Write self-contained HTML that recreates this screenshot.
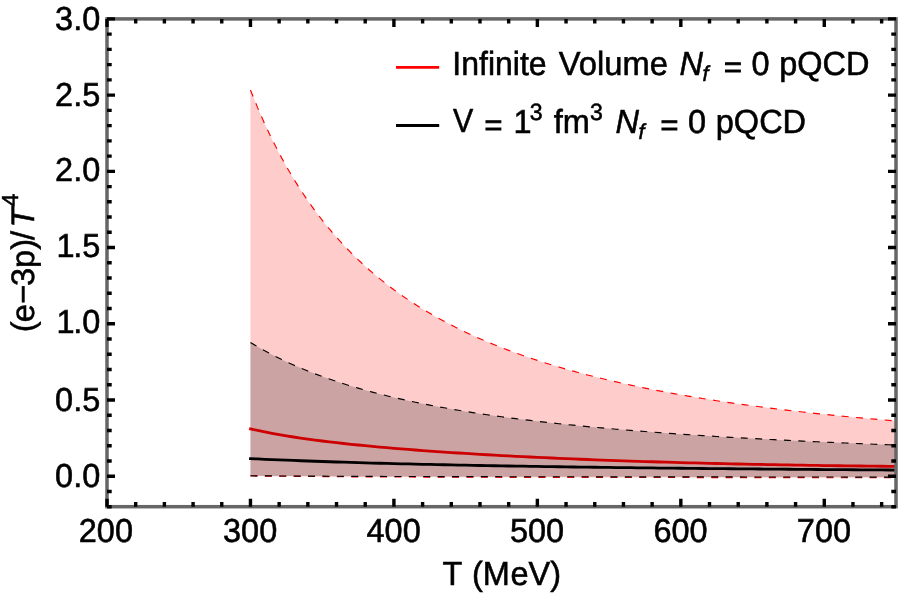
<!DOCTYPE html>
<html lang="en"><head><meta charset="utf-8"><title>Trace anomaly pQCD</title>
<style>
html,body{margin:0;padding:0;background:#fff;}
body{width:900px;height:598px;overflow:hidden;}
svg{display:block;}
text{font-family:"Liberation Sans",Arial,Helvetica,sans-serif;font-size:32.5px;fill:#000;stroke:#000;stroke-width:0.55px;text-rendering:geometricPrecision;}
.i{font-style:italic;}
.s{font-size:23.1px;}
</style></head><body>
<svg width="900" height="598" viewBox="0 0 900 598">
<rect width="900" height="598" fill="#fff"/>
<defs><clipPath id="pc"><rect x="107.0" y="18.9" width="789.0" height="487.8"/></clipPath></defs>
<g clip-path="url(#pc)">
<!-- red band -->
<path d="M250.45 89.93 L257.63 107.65 L264.80 124.02 L271.97 139.19 L279.15 153.28 L286.32 166.39 L293.49 178.61 L300.66 190.03 L307.84 200.72 L315.01 210.74 L322.18 220.15 L329.35 229.00 L336.53 237.33 L343.70 245.20 L350.87 252.63 L358.05 259.66 L365.22 266.31 L372.39 272.63 L379.56 278.62 L386.74 284.32 L393.91 289.74 L401.08 294.90 L408.25 299.82 L415.43 304.52 L422.60 309.01 L429.77 313.30 L436.95 317.40 L444.12 321.33 L451.29 325.10 L458.46 328.71 L465.64 332.18 L472.81 335.51 L479.98 338.71 L487.15 341.79 L494.33 344.75 L501.50 347.60 L508.67 350.35 L515.85 353.00 L523.02 355.55 L530.19 358.01 L537.36 360.39 L544.54 362.69 L551.71 364.91 L558.88 367.06 L566.05 369.13 L573.23 371.14 L580.40 373.08 L587.57 374.97 L594.75 376.79 L601.92 378.55 L609.09 380.27 L616.26 381.93 L623.44 383.54 L630.61 385.10 L637.78 386.62 L644.95 388.09 L652.13 389.52 L659.30 390.91 L666.47 392.26 L673.65 393.57 L680.82 394.84 L687.99 396.08 L695.16 397.29 L702.34 398.46 L709.51 399.60 L716.68 400.72 L723.85 401.80 L731.03 402.85 L738.20 403.88 L745.37 404.88 L752.55 405.85 L759.72 406.80 L766.89 407.72 L774.06 408.62 L781.24 409.50 L788.41 410.36 L795.58 411.19 L802.75 412.01 L809.93 412.80 L817.10 413.58 L824.27 414.33 L831.45 415.07 L838.62 415.79 L845.79 416.50 L852.96 417.18 L860.14 417.85 L867.31 418.51 L874.48 419.15 L881.65 419.77 L888.83 420.38 L896.00 420.98 L896.00 477.80 L888.83 477.79 L881.65 477.78 L874.48 477.78 L867.31 477.77 L860.14 477.76 L852.96 477.75 L845.79 477.74 L838.62 477.73 L831.45 477.72 L824.27 477.71 L817.10 477.70 L809.93 477.69 L802.75 477.68 L795.58 477.68 L788.41 477.67 L781.24 477.66 L774.06 477.65 L766.89 477.64 L759.72 477.63 L752.55 477.62 L745.37 477.61 L738.20 477.60 L731.03 477.59 L723.85 477.58 L716.68 477.57 L709.51 477.57 L702.34 477.56 L695.16 477.55 L687.99 477.54 L680.82 477.53 L673.65 477.52 L666.47 477.51 L659.30 477.50 L652.13 477.49 L644.95 477.48 L637.78 477.47 L630.61 477.47 L623.44 477.46 L616.26 477.45 L609.09 477.44 L601.92 477.43 L594.75 477.42 L587.57 477.41 L580.40 477.40 L573.23 477.39 L566.05 477.38 L558.88 477.37 L551.71 477.37 L544.54 477.36 L537.36 477.35 L530.19 477.34 L523.02 477.33 L515.85 477.32 L508.67 477.31 L501.50 477.30 L494.33 477.28 L487.15 477.26 L479.98 477.24 L472.81 477.22 L465.64 477.20 L458.46 477.18 L451.29 477.16 L444.12 477.14 L436.95 477.12 L429.77 477.10 L422.60 477.08 L415.43 477.06 L408.25 477.04 L401.08 477.02 L393.91 477.00 L386.74 476.98 L379.56 476.96 L372.39 476.94 L365.22 476.91 L358.05 476.88 L350.87 476.83 L343.70 476.77 L336.53 476.71 L329.35 476.65 L322.18 476.59 L315.01 476.53 L307.84 476.47 L300.66 476.41 L293.49 476.36 L286.32 476.30 L279.15 476.24 L271.97 476.18 L264.80 476.12 L257.63 476.06 L250.45 476.00 Z" fill="#ff0000" fill-opacity="0.2"/>
<path d="M250.45 89.93 L257.63 107.65 L264.80 124.02 L271.97 139.19 L279.15 153.28 L286.32 166.39 L293.49 178.61 L300.66 190.03 L307.84 200.72 L315.01 210.74 L322.18 220.15 L329.35 229.00 L336.53 237.33 L343.70 245.20 L350.87 252.63 L358.05 259.66 L365.22 266.31 L372.39 272.63 L379.56 278.62 L386.74 284.32 L393.91 289.74 L401.08 294.90 L408.25 299.82 L415.43 304.52 L422.60 309.01 L429.77 313.30 L436.95 317.40 L444.12 321.33 L451.29 325.10 L458.46 328.71 L465.64 332.18 L472.81 335.51 L479.98 338.71 L487.15 341.79 L494.33 344.75 L501.50 347.60 L508.67 350.35 L515.85 353.00 L523.02 355.55 L530.19 358.01 L537.36 360.39 L544.54 362.69 L551.71 364.91 L558.88 367.06 L566.05 369.13 L573.23 371.14 L580.40 373.08 L587.57 374.97 L594.75 376.79 L601.92 378.55 L609.09 380.27 L616.26 381.93 L623.44 383.54 L630.61 385.10 L637.78 386.62 L644.95 388.09 L652.13 389.52 L659.30 390.91 L666.47 392.26 L673.65 393.57 L680.82 394.84 L687.99 396.08 L695.16 397.29 L702.34 398.46 L709.51 399.60 L716.68 400.72 L723.85 401.80 L731.03 402.85 L738.20 403.88 L745.37 404.88 L752.55 405.85 L759.72 406.80 L766.89 407.72 L774.06 408.62 L781.24 409.50 L788.41 410.36 L795.58 411.19 L802.75 412.01 L809.93 412.80 L817.10 413.58 L824.27 414.33 L831.45 415.07 L838.62 415.79 L845.79 416.50 L852.96 417.18 L860.14 417.85 L867.31 418.51 L874.48 419.15 L881.65 419.77 L888.83 420.38 L896.00 420.98" fill="none" stroke="#ff0000" stroke-width="1.15" stroke-dasharray="7 7.4"/>
<path d="M250.45 476.00 L257.63 476.06 L264.80 476.12 L271.97 476.18 L279.15 476.24 L286.32 476.30 L293.49 476.36 L300.66 476.41 L307.84 476.47 L315.01 476.53 L322.18 476.59 L329.35 476.65 L336.53 476.71 L343.70 476.77 L350.87 476.83 L358.05 476.88 L365.22 476.91 L372.39 476.94 L379.56 476.96 L386.74 476.98 L393.91 477.00 L401.08 477.02 L408.25 477.04 L415.43 477.06 L422.60 477.08 L429.77 477.10 L436.95 477.12 L444.12 477.14 L451.29 477.16 L458.46 477.18 L465.64 477.20 L472.81 477.22 L479.98 477.24 L487.15 477.26 L494.33 477.28 L501.50 477.30 L508.67 477.31 L515.85 477.32 L523.02 477.33 L530.19 477.34 L537.36 477.35 L544.54 477.36 L551.71 477.37 L558.88 477.37 L566.05 477.38 L573.23 477.39 L580.40 477.40 L587.57 477.41 L594.75 477.42 L601.92 477.43 L609.09 477.44 L616.26 477.45 L623.44 477.46 L630.61 477.47 L637.78 477.47 L644.95 477.48 L652.13 477.49 L659.30 477.50 L666.47 477.51 L673.65 477.52 L680.82 477.53 L687.99 477.54 L695.16 477.55 L702.34 477.56 L709.51 477.57 L716.68 477.57 L723.85 477.58 L731.03 477.59 L738.20 477.60 L745.37 477.61 L752.55 477.62 L759.72 477.63 L766.89 477.64 L774.06 477.65 L781.24 477.66 L788.41 477.67 L795.58 477.68 L802.75 477.68 L809.93 477.69 L817.10 477.70 L824.27 477.71 L831.45 477.72 L838.62 477.73 L845.79 477.74 L852.96 477.75 L860.14 477.76 L867.31 477.77 L874.48 477.78 L881.65 477.78 L888.83 477.79 L896.00 477.80" fill="none" stroke="#ff0000" stroke-width="1.15" stroke-dasharray="7 7.4"/>
<path d="M250.45 428.82 L257.63 430.44 L264.80 431.93 L271.97 433.33 L279.15 434.63 L286.32 435.85 L293.49 437.00 L300.66 438.08 L307.84 439.10 L315.01 440.07 L322.18 440.99 L329.35 441.87 L336.53 442.71 L343.70 443.51 L350.87 444.27 L358.05 445.01 L365.22 445.72 L372.39 446.40 L379.56 447.05 L386.74 447.69 L393.91 448.30 L401.08 448.89 L408.25 449.46 L415.43 450.02 L422.60 450.55 L429.77 451.07 L436.95 451.58 L444.12 452.07 L451.29 452.55 L458.46 453.01 L465.64 453.46 L472.81 453.90 L479.98 454.33 L487.15 454.74 L494.33 455.15 L501.50 455.54 L508.67 455.92 L515.85 456.29 L523.02 456.66 L530.19 457.01 L537.36 457.35 L544.54 457.69 L551.71 458.01 L558.88 458.33 L566.05 458.64 L573.23 458.94 L580.40 459.23 L587.57 459.52 L594.75 459.80 L601.92 460.07 L609.09 460.33 L616.26 460.58 L623.44 460.83 L630.61 461.08 L637.78 461.31 L644.95 461.54 L652.13 461.76 L659.30 461.98 L666.47 462.19 L673.65 462.40 L680.82 462.59 L687.99 462.79 L695.16 462.97 L702.34 463.16 L709.51 463.33 L716.68 463.51 L723.85 463.67 L731.03 463.83 L738.20 463.99 L745.37 464.14 L752.55 464.29 L759.72 464.43 L766.89 464.57 L774.06 464.71 L781.24 464.84 L788.41 464.96 L795.58 465.08 L802.75 465.20 L809.93 465.31 L817.10 465.42 L824.27 465.53 L831.45 465.63 L838.62 465.73 L845.79 465.82 L852.96 465.91 L860.14 466.00 L867.31 466.08 L874.48 466.16 L881.65 466.24 L888.83 466.31 L896.00 466.39" fill="none" stroke="#ff0000" stroke-width="2.8" stroke-linecap="square"/>
<!-- black band -->
<path d="M250.45 342.42 L257.63 346.72 L264.80 350.79 L271.97 354.64 L279.15 358.28 L286.32 361.72 L293.49 364.99 L300.66 368.10 L307.84 371.05 L315.01 373.85 L322.18 376.52 L329.35 379.07 L336.53 381.50 L343.70 383.82 L350.87 386.03 L358.05 388.15 L365.22 390.18 L372.39 392.13 L379.56 393.99 L386.74 395.77 L393.91 397.49 L401.08 399.13 L408.25 400.72 L415.43 402.24 L422.60 403.70 L429.77 405.11 L436.95 406.47 L444.12 407.78 L451.29 409.04 L458.46 410.26 L465.64 411.44 L472.81 412.58 L479.98 413.68 L487.15 414.74 L494.33 415.77 L501.50 416.76 L508.67 417.73 L515.85 418.66 L523.02 419.57 L530.19 420.44 L537.36 421.29 L544.54 422.12 L551.71 422.92 L558.88 423.70 L566.05 424.46 L573.23 425.19 L580.40 425.91 L587.57 426.60 L594.75 427.28 L601.92 427.93 L609.09 428.57 L616.26 429.20 L623.44 429.81 L630.61 430.40 L637.78 430.97 L644.95 431.54 L652.13 432.09 L659.30 432.62 L666.47 433.14 L673.65 433.65 L680.82 434.15 L687.99 434.64 L695.16 435.11 L702.34 435.58 L709.51 436.03 L716.68 436.47 L723.85 436.91 L731.03 437.33 L738.20 437.75 L745.37 438.15 L752.55 438.55 L759.72 438.94 L766.89 439.32 L774.06 439.69 L781.24 440.06 L788.41 440.42 L795.58 440.77 L802.75 441.11 L809.93 441.45 L817.10 441.78 L824.27 442.10 L831.45 442.42 L838.62 442.73 L845.79 443.04 L852.96 443.34 L860.14 443.63 L867.31 443.92 L874.48 444.21 L881.65 444.48 L888.83 444.76 L896.00 445.03 L896.00 477.10 L888.83 477.09 L881.65 477.09 L874.48 477.08 L867.31 477.07 L860.14 477.07 L852.96 477.06 L845.79 477.05 L838.62 477.04 L831.45 477.04 L824.27 477.03 L817.10 477.02 L809.93 477.01 L802.75 477.01 L795.58 477.00 L788.41 476.99 L781.24 476.99 L774.06 476.98 L766.89 476.97 L759.72 476.96 L752.55 476.96 L745.37 476.95 L738.20 476.94 L731.03 476.93 L723.85 476.93 L716.68 476.92 L709.51 476.91 L702.34 476.91 L695.16 476.90 L687.99 476.89 L680.82 476.88 L673.65 476.88 L666.47 476.87 L659.30 476.86 L652.13 476.85 L644.95 476.85 L637.78 476.84 L630.61 476.83 L623.44 476.83 L616.26 476.82 L609.09 476.81 L601.92 476.80 L594.75 476.80 L587.57 476.79 L580.40 476.78 L573.23 476.77 L566.05 476.77 L558.88 476.76 L551.71 476.75 L544.54 476.75 L537.36 476.74 L530.19 476.73 L523.02 476.72 L515.85 476.72 L508.67 476.71 L501.50 476.70 L494.33 476.69 L487.15 476.67 L479.98 476.66 L472.81 476.64 L465.64 476.63 L458.46 476.61 L451.29 476.60 L444.12 476.58 L436.95 476.56 L429.77 476.55 L422.60 476.53 L415.43 476.52 L408.25 476.50 L401.08 476.49 L393.91 476.47 L386.74 476.46 L379.56 476.44 L372.39 476.43 L365.22 476.41 L358.05 476.39 L350.87 476.35 L343.70 476.31 L336.53 476.27 L329.35 476.23 L322.18 476.19 L315.01 476.15 L307.84 476.12 L300.66 476.08 L293.49 476.04 L286.32 476.00 L279.15 475.96 L271.97 475.92 L264.80 475.88 L257.63 475.84 L250.45 475.80 Z" fill="#000000" fill-opacity="0.2"/>
<path d="M250.45 342.42 L257.63 346.72 L264.80 350.79 L271.97 354.64 L279.15 358.28 L286.32 361.72 L293.49 364.99 L300.66 368.10 L307.84 371.05 L315.01 373.85 L322.18 376.52 L329.35 379.07 L336.53 381.50 L343.70 383.82 L350.87 386.03 L358.05 388.15 L365.22 390.18 L372.39 392.13 L379.56 393.99 L386.74 395.77 L393.91 397.49 L401.08 399.13 L408.25 400.72 L415.43 402.24 L422.60 403.70 L429.77 405.11 L436.95 406.47 L444.12 407.78 L451.29 409.04 L458.46 410.26 L465.64 411.44 L472.81 412.58 L479.98 413.68 L487.15 414.74 L494.33 415.77 L501.50 416.76 L508.67 417.73 L515.85 418.66 L523.02 419.57 L530.19 420.44 L537.36 421.29 L544.54 422.12 L551.71 422.92 L558.88 423.70 L566.05 424.46 L573.23 425.19 L580.40 425.91 L587.57 426.60 L594.75 427.28 L601.92 427.93 L609.09 428.57 L616.26 429.20 L623.44 429.81 L630.61 430.40 L637.78 430.97 L644.95 431.54 L652.13 432.09 L659.30 432.62 L666.47 433.14 L673.65 433.65 L680.82 434.15 L687.99 434.64 L695.16 435.11 L702.34 435.58 L709.51 436.03 L716.68 436.47 L723.85 436.91 L731.03 437.33 L738.20 437.75 L745.37 438.15 L752.55 438.55 L759.72 438.94 L766.89 439.32 L774.06 439.69 L781.24 440.06 L788.41 440.42 L795.58 440.77 L802.75 441.11 L809.93 441.45 L817.10 441.78 L824.27 442.10 L831.45 442.42 L838.62 442.73 L845.79 443.04 L852.96 443.34 L860.14 443.63 L867.31 443.92 L874.48 444.21 L881.65 444.48 L888.83 444.76 L896.00 445.03" fill="none" stroke="#000" stroke-width="1.15" stroke-dasharray="7 7.4"/>
<path d="M250.45 475.80 L257.63 475.84 L264.80 475.88 L271.97 475.92 L279.15 475.96 L286.32 476.00 L293.49 476.04 L300.66 476.08 L307.84 476.12 L315.01 476.15 L322.18 476.19 L329.35 476.23 L336.53 476.27 L343.70 476.31 L350.87 476.35 L358.05 476.39 L365.22 476.41 L372.39 476.43 L379.56 476.44 L386.74 476.46 L393.91 476.47 L401.08 476.49 L408.25 476.50 L415.43 476.52 L422.60 476.53 L429.77 476.55 L436.95 476.56 L444.12 476.58 L451.29 476.60 L458.46 476.61 L465.64 476.63 L472.81 476.64 L479.98 476.66 L487.15 476.67 L494.33 476.69 L501.50 476.70 L508.67 476.71 L515.85 476.72 L523.02 476.72 L530.19 476.73 L537.36 476.74 L544.54 476.75 L551.71 476.75 L558.88 476.76 L566.05 476.77 L573.23 476.77 L580.40 476.78 L587.57 476.79 L594.75 476.80 L601.92 476.80 L609.09 476.81 L616.26 476.82 L623.44 476.83 L630.61 476.83 L637.78 476.84 L644.95 476.85 L652.13 476.85 L659.30 476.86 L666.47 476.87 L673.65 476.88 L680.82 476.88 L687.99 476.89 L695.16 476.90 L702.34 476.91 L709.51 476.91 L716.68 476.92 L723.85 476.93 L731.03 476.93 L738.20 476.94 L745.37 476.95 L752.55 476.96 L759.72 476.96 L766.89 476.97 L774.06 476.98 L781.24 476.99 L788.41 476.99 L795.58 477.00 L802.75 477.01 L809.93 477.01 L817.10 477.02 L824.27 477.03 L831.45 477.04 L838.62 477.04 L845.79 477.05 L852.96 477.06 L860.14 477.07 L867.31 477.07 L874.48 477.08 L881.65 477.09 L888.83 477.09 L896.00 477.10" fill="none" stroke="#000" stroke-width="1.15" stroke-dasharray="7 7.4"/>
<path d="M250.45 458.63 L257.63 458.96 L264.80 459.29 L271.97 459.60 L279.15 459.90 L286.32 460.19 L293.49 460.47 L300.66 460.75 L307.84 461.01 L315.01 461.26 L322.18 461.51 L329.35 461.75 L336.53 461.98 L343.70 462.21 L350.87 462.43 L358.05 462.64 L365.22 462.84 L372.39 463.04 L379.56 463.24 L386.74 463.43 L393.91 463.61 L401.08 463.79 L408.25 463.96 L415.43 464.13 L422.60 464.30 L429.77 464.46 L436.95 464.62 L444.12 464.77 L451.29 464.92 L458.46 465.06 L465.64 465.20 L472.81 465.34 L479.98 465.48 L487.15 465.61 L494.33 465.74 L501.50 465.86 L508.67 465.99 L515.85 466.11 L523.02 466.22 L530.19 466.34 L537.36 466.45 L544.54 466.56 L551.71 466.67 L558.88 466.77 L566.05 466.88 L573.23 466.98 L580.40 467.08 L587.57 467.17 L594.75 467.27 L601.92 467.36 L609.09 467.45 L616.26 467.54 L623.44 467.63 L630.61 467.72 L637.78 467.80 L644.95 467.88 L652.13 467.96 L659.30 468.04 L666.47 468.12 L673.65 468.20 L680.82 468.27 L687.99 468.35 L695.16 468.42 L702.34 468.49 L709.51 468.56 L716.68 468.63 L723.85 468.70 L731.03 468.77 L738.20 468.83 L745.37 468.89 L752.55 468.96 L759.72 469.02 L766.89 469.08 L774.06 469.14 L781.24 469.20 L788.41 469.26 L795.58 469.32 L802.75 469.37 L809.93 469.43 L817.10 469.48 L824.27 469.54 L831.45 469.59 L838.62 469.64 L845.79 469.69 L852.96 469.74 L860.14 469.79 L867.31 469.84 L874.48 469.89 L881.65 469.94 L888.83 469.99 L896.00 470.03" fill="none" stroke="#000" stroke-width="2.8" stroke-linecap="square"/>
</g>
<!-- frame -->
<rect x="107.0" y="18.9" width="789.0" height="487.8" fill="none" stroke="#666666" stroke-width="3.5"/>
<path d="M107.00 506.70 V498.70 M107.00 18.90 V26.90 M135.69 506.70 V502.00 M135.69 18.90 V23.60 M164.38 506.70 V502.00 M164.38 18.90 V23.60 M193.07 506.70 V502.00 M193.07 18.90 V23.60 M221.76 506.70 V502.00 M221.76 18.90 V23.60 M250.45 506.70 V498.70 M250.45 18.90 V26.90 M279.15 506.70 V502.00 M279.15 18.90 V23.60 M307.84 506.70 V502.00 M307.84 18.90 V23.60 M336.53 506.70 V502.00 M336.53 18.90 V23.60 M365.22 506.70 V502.00 M365.22 18.90 V23.60 M393.91 506.70 V498.70 M393.91 18.90 V26.90 M422.60 506.70 V502.00 M422.60 18.90 V23.60 M451.29 506.70 V502.00 M451.29 18.90 V23.60 M479.98 506.70 V502.00 M479.98 18.90 V23.60 M508.67 506.70 V502.00 M508.67 18.90 V23.60 M537.36 506.70 V498.70 M537.36 18.90 V26.90 M566.05 506.70 V502.00 M566.05 18.90 V23.60 M594.75 506.70 V502.00 M594.75 18.90 V23.60 M623.44 506.70 V502.00 M623.44 18.90 V23.60 M652.13 506.70 V502.00 M652.13 18.90 V23.60 M680.82 506.70 V498.70 M680.82 18.90 V26.90 M709.51 506.70 V502.00 M709.51 18.90 V23.60 M738.20 506.70 V502.00 M738.20 18.90 V23.60 M766.89 506.70 V502.00 M766.89 18.90 V23.60 M795.58 506.70 V502.00 M795.58 18.90 V23.60 M824.27 506.70 V498.70 M824.27 18.90 V26.90 M852.96 506.70 V502.00 M852.96 18.90 V23.60 M881.65 506.70 V502.00 M881.65 18.90 V23.60 M107.00 506.70 H111.70 M896.00 506.70 H891.30 M107.00 491.46 H111.70 M896.00 491.46 H891.30 M107.00 476.21 H115.00 M896.00 476.21 H888.00 M107.00 460.97 H111.70 M896.00 460.97 H891.30 M107.00 445.72 H111.70 M896.00 445.72 H891.30 M107.00 430.48 H111.70 M896.00 430.48 H891.30 M107.00 415.24 H111.70 M896.00 415.24 H891.30 M107.00 399.99 H115.00 M896.00 399.99 H888.00 M107.00 384.75 H111.70 M896.00 384.75 H891.30 M107.00 369.51 H111.70 M896.00 369.51 H891.30 M107.00 354.26 H111.70 M896.00 354.26 H891.30 M107.00 339.02 H111.70 M896.00 339.02 H891.30 M107.00 323.77 H115.00 M896.00 323.77 H888.00 M107.00 308.53 H111.70 M896.00 308.53 H891.30 M107.00 293.29 H111.70 M896.00 293.29 H891.30 M107.00 278.04 H111.70 M896.00 278.04 H891.30 M107.00 262.80 H111.70 M896.00 262.80 H891.30 M107.00 247.56 H115.00 M896.00 247.56 H888.00 M107.00 232.31 H111.70 M896.00 232.31 H891.30 M107.00 217.07 H111.70 M896.00 217.07 H891.30 M107.00 201.82 H111.70 M896.00 201.82 H891.30 M107.00 186.58 H111.70 M896.00 186.58 H891.30 M107.00 171.34 H115.00 M896.00 171.34 H888.00 M107.00 156.09 H111.70 M896.00 156.09 H891.30 M107.00 140.85 H111.70 M896.00 140.85 H891.30 M107.00 125.61 H111.70 M896.00 125.61 H891.30 M107.00 110.36 H111.70 M896.00 110.36 H891.30 M107.00 95.12 H115.00 M896.00 95.12 H888.00 M107.00 79.87 H111.70 M896.00 79.87 H891.30 M107.00 64.63 H111.70 M896.00 64.63 H891.30 M107.00 49.39 H111.70 M896.00 49.39 H891.30 M107.00 34.14 H111.70 M896.00 34.14 H891.30 M107.00 18.90 H115.00 M896.00 18.90 H888.00" fill="none" stroke="#000" stroke-width="3.4"/>
<!-- tick labels -->
<g><text transform="translate(105.90 541.70) scale(1.000 1.023)" text-anchor="middle">200</text><text transform="translate(250.15 541.70) scale(1.000 1.023)" text-anchor="middle">300</text><text transform="translate(393.61 541.70) scale(1.000 1.023)" text-anchor="middle">400</text><text transform="translate(537.06 541.70) scale(1.000 1.023)" text-anchor="middle">500</text><text transform="translate(680.52 541.70) scale(1.000 1.023)" text-anchor="middle">600</text><text transform="translate(823.97 541.70) scale(1.000 1.023)" text-anchor="middle">700</text></g>
<g><text transform="translate(100.30 486.81) scale(1.000 1.023)" text-anchor="end">0.0</text><text transform="translate(100.30 410.59) scale(1.000 1.023)" text-anchor="end">0.5</text><text transform="translate(98.80 333.48) scale(1.000 1.023)" text-anchor="end"><tspan dx="1.5">1</tspan><tspan dx="-1.5">.</tspan>0</text><text transform="translate(98.80 257.26) scale(1.000 1.023)" text-anchor="end"><tspan dx="1.5">1</tspan><tspan dx="-1.5">.</tspan>5</text><text transform="translate(100.30 181.14) scale(1.000 1.023)" text-anchor="end">2.0</text><text transform="translate(100.30 105.72) scale(1.000 1.023)" text-anchor="end">2.5</text><text transform="translate(100.30 29.50) scale(1.000 1.023)" text-anchor="end">3.0</text></g>
<!-- axis labels -->
<text transform="translate(501.70 585.00) scale(1.000 1.028)" text-anchor="middle">T <tspan dx="1.3">(</tspan>M<tspan dx="0.5">e</tspan>V)</text>
<text transform="translate(33.5 330.8) rotate(-90)" x="0" y="0" dx="-1.4 -0.8 0.3 -1.2 0 0 -0.9">(e−3p)/<tspan class="i" dx="3.5">T</tspan><tspan class="s" dy="-15.5" dx="1.0">4</tspan></text>
<!-- legend -->
<path d="M396 67.3H439.2" stroke="#ff0000" stroke-width="2.8"/>
<path d="M396 125.5H439.2" stroke="#000" stroke-width="2.8"/>
<g id="l1"><text transform="translate(452.30 74.50) scale(0.985 1.028)">Infinite</text><text transform="translate(558.70 74.60) scale(1.007 1.028)">Volume</text><text transform="translate(679.50 74.60) scale(1.000 1.028)" class="i">N</text><text transform="translate(702.60 80.50) scale(1.000 1.000)" class="i s" style="font-size:21.6px">f</text><text transform="translate(724.10 76.70) scale(0.940 0.900)" style="stroke-width:1.1px">=</text><text transform="translate(751.50 74.80) scale(1.000 1.023)">0</text><text transform="translate(779.20 74.60) scale(1.000 1.028)">pQCD</text></g>
<g id="l2"><text transform="translate(453.10 132.30) scale(0.935 1.028)">V</text><text transform="translate(484.40 134.80) scale(0.940 0.900)" style="stroke-width:1.1px">=</text><text transform="translate(513.60 132.50) scale(1.000 1.023)">1</text><text transform="translate(529.80 119.90) scale(1.000 1.023)" class="s">3</text><text transform="translate(553.80 132.70) scale(1.000 1.028)">fm</text><text transform="translate(589.90 119.90) scale(1.000 1.023)" class="s">3</text><text transform="translate(615.40 132.70) scale(1.000 1.028)" class="i">N</text><text transform="translate(638.60 138.60) scale(1.000 1.000)" class="i s" style="font-size:21.6px">f</text><text transform="translate(660.60 134.80) scale(0.940 0.900)" style="stroke-width:1.1px">=</text><text transform="translate(687.90 132.90) scale(1.000 1.023)">0</text><text transform="translate(715.80 132.70) scale(1.000 1.028)">pQCD</text></g>
</svg>
</body></html>
